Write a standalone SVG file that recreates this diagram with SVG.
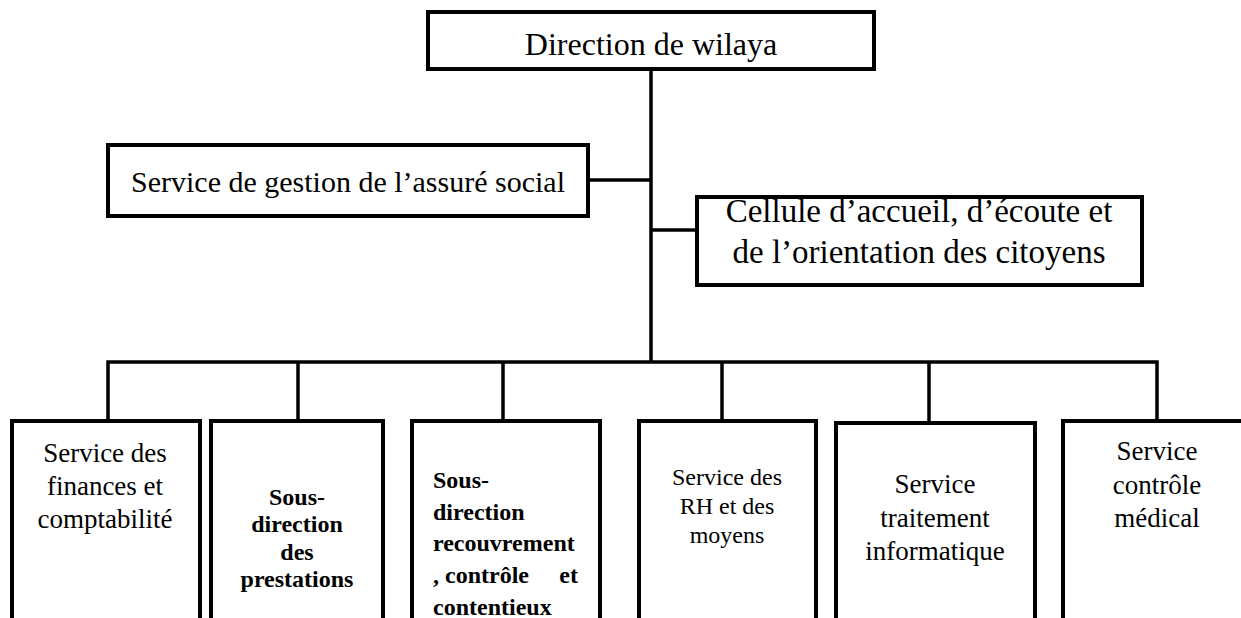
<svg xmlns="http://www.w3.org/2000/svg" width="1241" height="618" viewBox="0 0 1241 618">
<style>
.box{fill:#fff;stroke:#000;stroke-width:4}
.ln{fill:none;stroke:#000;stroke-width:3.5}
text{font-family:"Liberation Serif","Times New Roman",serif;fill:#000}
.c{text-anchor:middle}
.b{font-weight:bold}
</style>
<rect width="1241" height="618" fill="#fff"/>
<g id="connectors">
<line class="ln" x1="651" y1="69" x2="651" y2="362"/>
<line class="ln" x1="588" y1="180" x2="651" y2="180"/>
<line class="ln" x1="651" y1="230" x2="697" y2="230"/>
<path class="ln" d="M108 421 V362 H1157 V421"/>
<line class="ln" x1="298" y1="362" x2="298" y2="421"/>
<line class="ln" x1="503" y1="362" x2="503" y2="421"/>
<line class="ln" x1="722" y1="362" x2="722" y2="421"/>
<line class="ln" x1="929" y1="362" x2="929" y2="421"/>
</g>
<g id="n-direction">
<rect class="box" x="428" y="12" width="446" height="57"/>
<text class="c" x="651" y="55" font-size="32">Direction de wilaya</text>
</g>
<g id="n-gestion">
<rect class="box" x="108" y="145" width="480" height="71"/>
<text class="c" x="348" y="192" font-size="30">Service de gestion de l’assuré social</text>
</g>
<g id="n-cellule">
<rect class="box" x="697" y="197" width="445" height="88"/>
<text class="c" x="919" y="222" font-size="33">Cellule d’accueil, d’écoute et</text>
<text class="c" x="919" y="263" font-size="33">de l’orientation des citoyens</text>
</g>
<g id="n-finances">
<rect class="box" x="12" y="421" width="188" height="220"/>
<text class="c" x="105" y="462" font-size="27">Service des</text>
<text class="c" x="105" y="495" font-size="27">finances et</text>
<text class="c" x="105" y="528" font-size="27">comptabilité</text>
</g>
<g id="n-prestations">
<rect class="box" x="211" y="421" width="172" height="220"/>
<text class="c b" x="297" y="505" font-size="24">Sous-</text>
<text class="c b" x="297" y="532" font-size="24">direction</text>
<text class="c b" x="297" y="560" font-size="24">des</text>
<text class="c b" x="297" y="587" font-size="24">prestations</text>
</g>
<g id="n-recouvrement">
<rect class="box" x="412" y="421" width="188" height="220"/>
<text class="b" x="433" y="488" font-size="24">Sous-</text>
<text class="b" x="433" y="520" font-size="24">direction</text>
<text class="b" x="433" y="551" font-size="24">recouvrement</text>
<text class="b" x="433" y="583" font-size="24">, contrôle</text>
<text class="b" x="578" y="583" font-size="24" text-anchor="end">et</text>
<text class="b" x="433" y="615" font-size="24">contentieux</text>
</g>
<g id="n-rh">
<rect class="box" x="639" y="421" width="177" height="220"/>
<text class="c" x="727" y="485" font-size="24">Service des</text>
<text class="c" x="727" y="514" font-size="24">RH et des</text>
<text class="c" x="727" y="543" font-size="24">moyens</text>
</g>
<g id="n-informatique">
<rect class="box" x="836" y="423" width="199" height="220"/>
<text class="c" x="935" y="493" font-size="27">Service</text>
<text class="c" x="935" y="527" font-size="27">traitement</text>
<text class="c" x="935" y="560" font-size="27">informatique</text>
</g>
<g id="n-medical">
<rect class="box" x="1063" y="421" width="200" height="220"/>
<text class="c" x="1157" y="460" font-size="27">Service</text>
<text class="c" x="1157" y="494" font-size="27">contrôle</text>
<text class="c" x="1157" y="527" font-size="27">médical</text>
</g>
</svg>
